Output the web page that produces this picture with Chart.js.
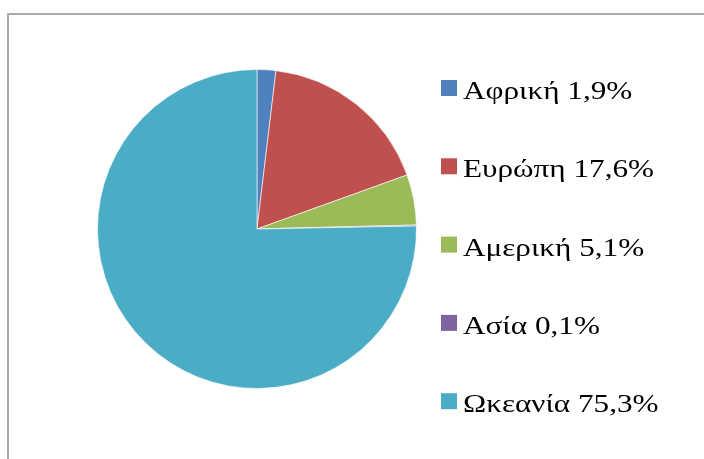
<!DOCTYPE html>
<html>
<head>
<meta charset="utf-8">
<script src="https://cdn.jsdelivr.net/npm/chart.js@4"></script>
<style>
  html, body { margin: 0; padding: 0; background: #fff; overflow: hidden; }
  #wrap { position: relative; width: 704px; height: 459px; }
  #frame { position: absolute; left: 7px; top: 13px; width: 720px; height: 470px;
           border-top: 2px solid #ababab; border-left: 2px solid #ababab; }
  canvas { position: absolute; left: 0; top: 0; }
</style>
</head>
<body>
<div id="wrap">
  <div id="frame"></div>
  <canvas id="pie" width="704" height="459"></canvas>
</div>
<script>
/* ── Data ───────────────────────────── */
const regions = ['Αφρική', 'Ευρώπη', 'Αμερική', 'Ασία', 'Ωκεανία'];
const shares = [1.9, 17.6, 5.1, 0.1, 75.3];
const colors = ['#4f81bd', '#c0504d', '#9bbb59', '#8064a2', '#4bacc6'];

// Legend drawn on the right: square marker + "name value%"
const sideLegend = {
  id: 'sideLegend',
  afterDraw(chart) {
    const ctx = chart.ctx;
    regions.forEach((name, i) => {
      const base = 99 + i * 78.3;
      ctx.save();
      ctx.fillStyle = colors[i];
      ctx.fillRect(441, base - 19, 16, 16);
      // slightly wide serif text
      ctx.translate(463, base);
      ctx.scale(1.2, 1);
      ctx.font = '26px "Liberation Serif", "Times New Roman", serif';
      ctx.textBaseline = 'alphabetic';
      ctx.fillStyle = '#000';
      const label = name + ' ' + shares[i].toFixed(1).replace('.', ',') + '%';
      ctx.fillText(label, 0, 0);
      ctx.restore();
    });
  }
};

new Chart(document.getElementById('pie'), {
  type: 'pie',
  data: {
    labels: regions,
    datasets: [{ data: shares, backgroundColor: colors, borderColor: 'rgba(255,255,255,0.6)', borderWidth: 1 }]
  },
  options: {
    responsive: false,
    animation: false,
    layout: { padding: { left: 97, right: 287, top: 69, bottom: 70 } },
    plugins: { legend: { display: false }, tooltip: { enabled: false } }
  },
  plugins: [sideLegend]
});
</script>
</body>
</html>
